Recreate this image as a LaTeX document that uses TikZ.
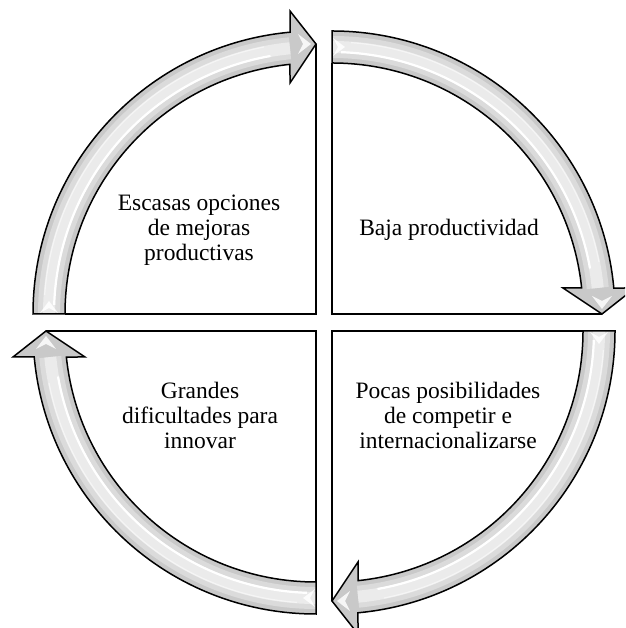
\documentclass[tikz,border=0pt]{standalone}
\usepackage{fontspec}
\setmainfont{Liberation Serif}
\begin{document}
% One quadrant, drawn with its corner at the origin: the curved arrow runs
% from 180 deg to 90 deg, the box sits inside the inner arc.
\newcommand\drawquadrant{%
  % white box
  \fill[white] (180:251) -- (0,0) -- (0,270) -- (95.95:251)
    arc[start angle=95.95, end angle=180, radius=251] -- cycle;
  \draw[outline] (180:251) -- (0,0) -- (0,270);
  % arrow body
  \fill[arrowfill] (180:283) arc[start angle=180, end angle=95.27, radius=283]
    -- (-26,303) -- (0,270) -- (-26,231) -- (95.95:251)
    arc[start angle=95.95, end angle=180, radius=251] -- cycle;
  \draw[gray!28, line width=22pt] (180:267) arc[start angle=180, end angle=95.6, radius=267];
  \draw[gray!16, line width=12pt] (180:267) arc[start angle=180, end angle=95.6, radius=267];
  \draw[white, line width=2.2pt] (178:262) arc[start angle=178, end angle=100, radius=262];
  \draw[white!92!gray, line width=1.2pt] (176:272) arc[start angle=176, end angle=101, radius=272];
  % glints at head and tail
  \fill[white, opacity=.85] (-18,260) -- (-5,270) -- (-18,280) -- (-13,270) -- cycle;
  \fill[white, opacity=.85] (-276,1) -- (-267,13) -- (-258,1) -- (-267,6) -- cycle;
  % outline of the arrow
  \draw[outline] (180:283) arc[start angle=180, end angle=95.27, radius=283]
    -- (-26,303) -- (0,270) -- (-26,231) -- (95.95:251)
    arc[start angle=95.95, end angle=180, radius=251] -- cycle;
}
\begin{tikzpicture}[x=1pt, y=1pt,
  outline/.style={draw=black, line width=1.5pt, line join=miter},
  arrowfill/.style={fill=gray!42},
  caption/.style={align=center, font=\fontsize{23.5}{25}\selectfont, text=black, inner sep=0pt}]
\clip (0,0) rectangle (625,628);
\fill[white] (0,0) rectangle (625,628);

\begin{scope}[shift={(316,314)}]\drawquadrant\end{scope}
\begin{scope}[shift={(332,314)}, rotate=-90]\drawquadrant\end{scope}
\begin{scope}[shift={(332,297)}, rotate=-180]\drawquadrant\end{scope}
\begin{scope}[shift={(316,297)}, rotate=-270]\drawquadrant\end{scope}

\node[caption] (mejoras) at (199,398) {Escasas opciones\\de mejoras\\productivas};
\node[caption] (baja) at (449,398) {Baja productividad};
\node[caption] (pocas) at (448,213) {Pocas posibilidades\\de competir e\\internacionalizarse};
\node[caption] (grandes) at (200,213) {Grandes\\dificultades para\\innovar};
\end{tikzpicture}
\end{document}
